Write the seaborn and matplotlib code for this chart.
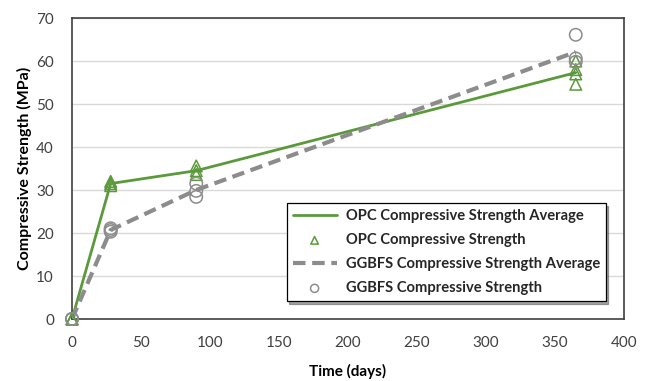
import matplotlib.pyplot as plt
import pandas as pd
import seaborn as sns

# Average curves
avg_days = [0, 28, 90, 365]
opc_avg = [0, 31.5, 34.5, 57.3]
ggbfs_avg = [0, 20.7, 30.0, 62.1]

# Individual specimens
opc_days = [0, 0, 0, 28, 28, 28, 90, 90, 90, 365, 365, 365, 365]
opc_vals = [0, 0, 0, 31.0, 31.5, 32.0, 33.6, 34.5, 35.6, 54.6, 57.0, 58.0, 60.0]
ggbfs_days = [0, 0, 0, 28, 28, 28, 90, 90, 90, 365, 365, 365]
ggbfs_vals = [0, 0, 0, 20.3, 20.7, 21.1, 28.4, 29.8, 31.5, 59.8, 60.6, 66.1]

green = "#5B9A3B"
grey = "#8C8C8C"

sns.set_style("white")
plt.rcParams["font.family"] = ["Lato", "DejaVu Sans"]

avg_df = pd.DataFrame({"days": avg_days, "opc": opc_avg, "ggbfs": ggbfs_avg})
opc_df = pd.DataFrame({"days": opc_days, "val": opc_vals})
gg_df = pd.DataFrame({"days": ggbfs_days, "val": ggbfs_vals})

fig = plt.figure(figsize=(6.56, 3.81), dpi=100)
ax = fig.add_axes([0.1098, 0.1627, 0.8415, 0.79])

sns.lineplot(data=avg_df, x="days", y="opc", ax=ax, color=green, lw=2,
             label="OPC Compressive Strength Average", zorder=3)
sns.scatterplot(data=opc_df, x="days", y="val", ax=ax, marker="^", s=70,
                facecolor="none", edgecolor=green, linewidth=1.1,
                label="OPC Compressive Strength", zorder=4, clip_on=False)
sns.lineplot(data=avg_df, x="days", y="ggbfs", ax=ax, color=grey, lw=3,
             linestyle=(0, (3, 1.6)), label="GGBFS Compressive Strength Average", zorder=3)
sns.scatterplot(data=gg_df, x="days", y="val", ax=ax, marker="o", s=80,
                facecolor="none", edgecolor=grey, linewidth=1.1,
                label="GGBFS Compressive Strength", zorder=4, clip_on=False)

ax.set_xlim(0, 400)
ax.set_ylim(0, 70)
ax.set_xticks(range(0, 401, 50))
ax.set_yticks(range(0, 71, 10))
ax.yaxis.grid(True, color="#D9D9D9", lw=1)
ax.set_axisbelow(True)
for s in ax.spines.values():
    s.set_color("#404040")
    s.set_linewidth(1.2)
ax.tick_params(axis="x", colors="#595959", labelsize=11, length=0, pad=12)
ax.tick_params(axis="y", colors="#595959", labelsize=11, length=0, pad=13)
ax.set_xlabel("Time (days)", fontsize=11, fontweight="bold", color="#000000", labelpad=10)
ax.set_ylabel("Compressive Strength (MPa)", fontsize=11.5, fontweight="bold", color="#000000", labelpad=3)
for lab in ax.get_xticklabels() + ax.get_yticklabels():
    lab.set_color("#404040")

leg = ax.legend(loc="lower right", bbox_to_anchor=(0.98, 0.035), frameon=True, fancybox=False,
                shadow=True, fontsize=10.6, handlelength=3.0, labelspacing=0.68,
                borderpad=0.4, handletextpad=0.6, markerscale=0.65)
leg.get_frame().set_edgecolor("#000000")
leg.get_frame().set_linewidth(0.9)
for t in leg.get_texts():
    t.set_fontweight("bold")

fig.savefig("out.png", dpi=100)
